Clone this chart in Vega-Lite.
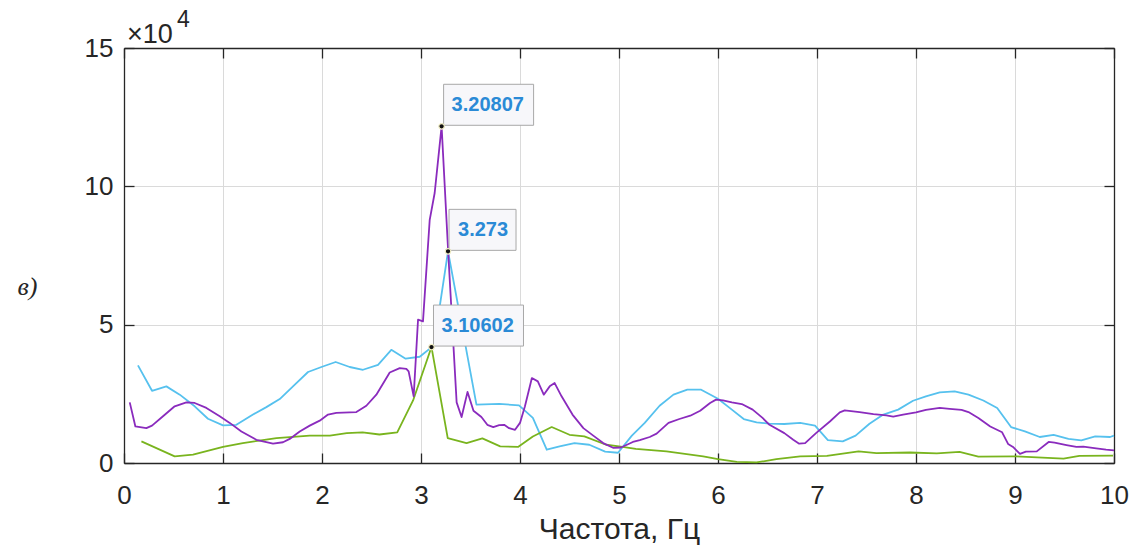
{
  "$schema": "https://vega.github.io/schema/vega-lite/v6.json",
  "width": 990,
  "height": 415,
  "autosize": {"type": "none"},
  "padding": {"left": 124, "top": 48, "right": 21, "bottom": 84},
  "background": "white",
  "config": {"view": {"stroke": null}, "font": "Liberation Sans"},
  "datasets": {
    "spectra": [
      {"series": "a", "f": 0.141, "a": 35300},
      {"series": "a", "f": 0.283, "a": 26100},
      {"series": "a", "f": 0.428, "a": 27700},
      {"series": "a", "f": 0.563, "a": 24700},
      {"series": "a", "f": 0.714, "a": 20500},
      {"series": "a", "f": 0.848, "a": 16000},
      {"series": "a", "f": 1.0, "a": 13600},
      {"series": "a", "f": 1.135, "a": 13800},
      {"series": "a", "f": 1.303, "a": 17500},
      {"series": "a", "f": 1.438, "a": 20200},
      {"series": "a", "f": 1.573, "a": 23100},
      {"series": "a", "f": 1.707, "a": 27700},
      {"series": "a", "f": 1.859, "a": 32900},
      {"series": "a", "f": 1.994, "a": 34700},
      {"series": "a", "f": 2.138, "a": 36500},
      {"series": "a", "f": 2.28, "a": 34700},
      {"series": "a", "f": 2.414, "a": 33700},
      {"series": "a", "f": 2.566, "a": 35500},
      {"series": "a", "f": 2.7, "a": 40900},
      {"series": "a", "f": 2.845, "a": 37700},
      {"series": "a", "f": 2.987, "a": 38400},
      {"series": "a", "f": 3.13, "a": 42500},
      {"series": "a", "f": 3.273, "a": 76500},
      {"series": "a", "f": 3.56, "a": 21100},
      {"series": "a", "f": 3.79, "a": 21400},
      {"series": "a", "f": 3.99, "a": 20800},
      {"series": "a", "f": 4.13, "a": 16300},
      {"series": "a", "f": 4.27, "a": 4800},
      {"series": "a", "f": 4.4, "a": 6000},
      {"series": "a", "f": 4.55, "a": 7200},
      {"series": "a", "f": 4.7, "a": 6600},
      {"series": "a", "f": 4.86, "a": 4100},
      {"series": "a", "f": 4.99, "a": 3700},
      {"series": "a", "f": 5.13, "a": 9900},
      {"series": "a", "f": 5.26, "a": 14500},
      {"series": "a", "f": 5.41, "a": 20700},
      {"series": "a", "f": 5.55, "a": 24700},
      {"series": "a", "f": 5.69, "a": 26500},
      {"series": "a", "f": 5.83, "a": 26500},
      {"series": "a", "f": 6.0, "a": 23200},
      {"series": "a", "f": 6.14, "a": 19300},
      {"series": "a", "f": 6.26, "a": 15900},
      {"series": "a", "f": 6.39, "a": 14700},
      {"series": "a", "f": 6.52, "a": 14200},
      {"series": "a", "f": 6.67, "a": 14100},
      {"series": "a", "f": 6.83, "a": 14500},
      {"series": "a", "f": 6.98, "a": 13500},
      {"series": "a", "f": 7.11, "a": 8300},
      {"series": "a", "f": 7.26, "a": 7800},
      {"series": "a", "f": 7.39, "a": 9900},
      {"series": "a", "f": 7.53, "a": 14200},
      {"series": "a", "f": 7.67, "a": 17500},
      {"series": "a", "f": 7.82, "a": 19300},
      {"series": "a", "f": 7.97, "a": 22500},
      {"series": "a", "f": 8.1, "a": 24100},
      {"series": "a", "f": 8.24, "a": 25500},
      {"series": "a", "f": 8.39, "a": 25900},
      {"series": "a", "f": 8.53, "a": 24700},
      {"series": "a", "f": 8.68, "a": 22600},
      {"series": "a", "f": 8.82, "a": 19900},
      {"series": "a", "f": 8.96, "a": 13000},
      {"series": "a", "f": 9.1, "a": 11400},
      {"series": "a", "f": 9.25, "a": 9400},
      {"series": "a", "f": 9.39, "a": 10200},
      {"series": "a", "f": 9.54, "a": 8700},
      {"series": "a", "f": 9.67, "a": 8200},
      {"series": "a", "f": 9.81, "a": 9600},
      {"series": "a", "f": 9.96, "a": 9400},
      {"series": "a", "f": 10.0, "a": 9900},

      {"series": "b", "f": 0.176, "a": 7800},
      {"series": "b", "f": 0.512, "a": 2400},
      {"series": "b", "f": 0.697, "a": 3000},
      {"series": "b", "f": 1.0, "a": 5800},
      {"series": "b", "f": 1.2, "a": 7200},
      {"series": "b", "f": 1.54, "a": 9000},
      {"series": "b", "f": 1.876, "a": 9900},
      {"series": "b", "f": 2.08, "a": 9900},
      {"series": "b", "f": 2.25, "a": 10800},
      {"series": "b", "f": 2.41, "a": 11100},
      {"series": "b", "f": 2.58, "a": 10300},
      {"series": "b", "f": 2.76, "a": 11100},
      {"series": "b", "f": 2.92, "a": 22600},
      {"series": "b", "f": 3.10602, "a": 41900},
      {"series": "b", "f": 3.27, "a": 9000},
      {"series": "b", "f": 3.46, "a": 7200},
      {"series": "b", "f": 3.62, "a": 8900},
      {"series": "b", "f": 3.8, "a": 6000},
      {"series": "b", "f": 3.98, "a": 5800},
      {"series": "b", "f": 4.13, "a": 9600},
      {"series": "b", "f": 4.32, "a": 13000},
      {"series": "b", "f": 4.5, "a": 10200},
      {"series": "b", "f": 4.65, "a": 9600},
      {"series": "b", "f": 4.87, "a": 6600},
      {"series": "b", "f": 5.0, "a": 6000},
      {"series": "b", "f": 5.17, "a": 5100},
      {"series": "b", "f": 5.48, "a": 4200},
      {"series": "b", "f": 5.85, "a": 2400},
      {"series": "b", "f": 6.0, "a": 1400},
      {"series": "b", "f": 6.19, "a": 400},
      {"series": "b", "f": 6.39, "a": 200},
      {"series": "b", "f": 6.59, "a": 1400},
      {"series": "b", "f": 6.83, "a": 2400},
      {"series": "b", "f": 7.1, "a": 2600},
      {"series": "b", "f": 7.42, "a": 4200},
      {"series": "b", "f": 7.6, "a": 3600},
      {"series": "b", "f": 7.94, "a": 3800},
      {"series": "b", "f": 8.21, "a": 3500},
      {"series": "b", "f": 8.44, "a": 4000},
      {"series": "b", "f": 8.63, "a": 2300},
      {"series": "b", "f": 9.01, "a": 2400},
      {"series": "b", "f": 9.49, "a": 1600},
      {"series": "b", "f": 9.65, "a": 2600},
      {"series": "b", "f": 9.99, "a": 2700},

      {"series": "c", "f": 0.058, "a": 21900},
      {"series": "c", "f": 0.115, "a": 13200},
      {"series": "c", "f": 0.226, "a": 12600},
      {"series": "c", "f": 0.283, "a": 13500},
      {"series": "c", "f": 0.394, "a": 16900},
      {"series": "c", "f": 0.512, "a": 20500},
      {"series": "c", "f": 0.63, "a": 21900},
      {"series": "c", "f": 0.714, "a": 21700},
      {"series": "c", "f": 0.832, "a": 19900},
      {"series": "c", "f": 0.967, "a": 16900},
      {"series": "c", "f": 1.068, "a": 14500},
      {"series": "c", "f": 1.186, "a": 11400},
      {"series": "c", "f": 1.337, "a": 8400},
      {"series": "c", "f": 1.404, "a": 7800},
      {"series": "c", "f": 1.505, "a": 7000},
      {"series": "c", "f": 1.606, "a": 7500},
      {"series": "c", "f": 1.674, "a": 8700},
      {"series": "c", "f": 1.775, "a": 11400},
      {"series": "c", "f": 1.876, "a": 13500},
      {"series": "c", "f": 1.977, "a": 15300},
      {"series": "c", "f": 2.061, "a": 17500},
      {"series": "c", "f": 2.145, "a": 18100},
      {"series": "c", "f": 2.347, "a": 18400},
      {"series": "c", "f": 2.448, "a": 20700},
      {"series": "c", "f": 2.549, "a": 24700},
      {"series": "c", "f": 2.684, "a": 32700},
      {"series": "c", "f": 2.785, "a": 34300},
      {"series": "c", "f": 2.852, "a": 34000},
      {"series": "c", "f": 2.875, "a": 33100},
      {"series": "c", "f": 2.926, "a": 24100},
      {"series": "c", "f": 2.97, "a": 51800},
      {"series": "c", "f": 3.02, "a": 51200},
      {"series": "c", "f": 3.088, "a": 87900},
      {"series": "c", "f": 3.138, "a": 97600},
      {"series": "c", "f": 3.20807, "a": 121700},
      {"series": "c", "f": 3.275, "a": 76000},
      {"series": "c", "f": 3.36, "a": 21900},
      {"series": "c", "f": 3.41, "a": 16600},
      {"series": "c", "f": 3.47, "a": 25700},
      {"series": "c", "f": 3.53, "a": 18900},
      {"series": "c", "f": 3.61, "a": 16600},
      {"series": "c", "f": 3.67, "a": 13800},
      {"series": "c", "f": 3.73, "a": 13000},
      {"series": "c", "f": 3.79, "a": 13700},
      {"series": "c", "f": 3.84, "a": 13800},
      {"series": "c", "f": 3.89, "a": 12600},
      {"series": "c", "f": 3.95, "a": 12000},
      {"series": "c", "f": 4.0, "a": 14500},
      {"series": "c", "f": 4.05, "a": 20500},
      {"series": "c", "f": 4.12, "a": 30700},
      {"series": "c", "f": 4.18, "a": 29500},
      {"series": "c", "f": 4.24, "a": 24700},
      {"series": "c", "f": 4.3, "a": 27700},
      {"series": "c", "f": 4.35, "a": 28900},
      {"series": "c", "f": 4.42, "a": 24100},
      {"series": "c", "f": 4.53, "a": 17500},
      {"series": "c", "f": 4.64, "a": 12600},
      {"series": "c", "f": 4.74, "a": 9900},
      {"series": "c", "f": 4.84, "a": 7200},
      {"series": "c", "f": 4.94, "a": 5500},
      {"series": "c", "f": 5.02, "a": 5600},
      {"series": "c", "f": 5.14, "a": 7600},
      {"series": "c", "f": 5.21, "a": 8300},
      {"series": "c", "f": 5.31, "a": 9400},
      {"series": "c", "f": 5.38, "a": 10600},
      {"series": "c", "f": 5.5, "a": 14500},
      {"series": "c", "f": 5.61, "a": 15900},
      {"series": "c", "f": 5.72, "a": 17100},
      {"series": "c", "f": 5.82, "a": 18900},
      {"series": "c", "f": 5.92, "a": 21700},
      {"series": "c", "f": 5.98, "a": 22900},
      {"series": "c", "f": 6.05, "a": 22600},
      {"series": "c", "f": 6.14, "a": 21900},
      {"series": "c", "f": 6.24, "a": 21300},
      {"series": "c", "f": 6.35, "a": 19300},
      {"series": "c", "f": 6.45, "a": 16300},
      {"series": "c", "f": 6.52, "a": 13800},
      {"series": "c", "f": 6.67, "a": 10800},
      {"series": "c", "f": 6.76, "a": 8400},
      {"series": "c", "f": 6.82, "a": 7000},
      {"series": "c", "f": 6.88, "a": 7200},
      {"series": "c", "f": 6.99, "a": 10800},
      {"series": "c", "f": 7.13, "a": 15000},
      {"series": "c", "f": 7.23, "a": 18300},
      {"series": "c", "f": 7.28, "a": 19000},
      {"series": "c", "f": 7.43, "a": 18400},
      {"series": "c", "f": 7.57, "a": 17700},
      {"series": "c", "f": 7.7, "a": 17200},
      {"series": "c", "f": 7.77, "a": 16800},
      {"series": "c", "f": 7.87, "a": 17500},
      {"series": "c", "f": 8.0, "a": 18300},
      {"series": "c", "f": 8.1, "a": 19200},
      {"series": "c", "f": 8.24, "a": 19900},
      {"series": "c", "f": 8.34, "a": 19600},
      {"series": "c", "f": 8.46, "a": 19200},
      {"series": "c", "f": 8.53, "a": 18400},
      {"series": "c", "f": 8.63, "a": 16300},
      {"series": "c", "f": 8.75, "a": 13200},
      {"series": "c", "f": 8.87, "a": 11100},
      {"series": "c", "f": 8.93, "a": 6900},
      {"series": "c", "f": 8.98, "a": 5800},
      {"series": "c", "f": 9.05, "a": 3300},
      {"series": "c", "f": 9.11, "a": 4100},
      {"series": "c", "f": 9.22, "a": 4200},
      {"series": "c", "f": 9.34, "a": 7600},
      {"series": "c", "f": 9.4, "a": 7400},
      {"series": "c", "f": 9.52, "a": 6500},
      {"series": "c", "f": 9.62, "a": 5800},
      {"series": "c", "f": 9.69, "a": 5900},
      {"series": "c", "f": 9.82, "a": 5300},
      {"series": "c", "f": 9.92, "a": 4800},
      {"series": "c", "f": 10.0, "a": 4600}
    ],
    "tips": [
      {"f": 3.20807, "a": 121700, "label": "3.20807"},
      {"f": 3.273, "a": 76500, "label": "3.273"},
      {"f": 3.10602, "a": 41900, "label": "3.10602"}
    ],
    "exponent": [
      {"base": "×10", "power": "4"}
    ]
  },
  "layer": [
    {
      "data": {"name": "spectra"},
      "mark": {"type": "line", "strokeWidth": 1.8, "strokeJoin": "round"},
      "encoding": {
        "x": {
          "field": "f", "type": "quantitative",
          "scale": {"domain": [0, 10], "nice": false, "zero": false},
          "axis": {
            "orient": "bottom",
            "values": [0, 1, 2, 3, 4, 5, 6, 7, 8, 9, 10],
            "format": "d",
            "grid": true, "gridColor": "#DADADA", "gridWidth": 1,
            "domainColor": "#262626", "domainWidth": 1.3,
            "ticks": true, "tickColor": "#262626", "tickWidth": 1.3, "tickSize": -10,
            "labelFont": "Liberation Sans", "labelFontSize": 26, "labelColor": "#262626",
            "labelPadding": 29, "labelFlush": false, "labelOverlap": false,
            "title": "Частота, Гц",
            "titleFont": "Liberation Sans", "titleFontSize": 30, "titleFontWeight": "normal",
            "titleColor": "#262626", "titleAlign": "center", "titleBaseline": "alphabetic",
            "titleX": 495, "titleY": 75
          }
        },
        "y": {
          "field": "a", "type": "quantitative",
          "scale": {"domain": [0, 150000], "nice": false},
          "axis": {
            "orient": "left",
            "values": [0, 50000, 100000, 150000],
            "labelExpr": "format(datum.value / 10000, 'd')",
            "grid": true, "gridColor": "#DADADA", "gridWidth": 1,
            "domainColor": "#262626", "domainWidth": 1.3,
            "ticks": true, "tickColor": "#262626", "tickWidth": 1.3, "tickSize": -10,
            "labelFont": "Liberation Sans", "labelFontSize": 26, "labelColor": "#262626",
            "labelPadding": 21, "labelFlush": false, "labelOverlap": false,
            "title": "в)",
            "titleFont": "Liberation Serif", "titleFontStyle": "italic", "titleFontWeight": "normal",
            "titleFontSize": 26, "titleColor": "#262626", "titleAngle": 0,
            "titleAlign": "left", "titleBaseline": "middle",
            "titleX": -107, "titleY": 238
          }
        },
        "color": {
          "field": "series", "type": "nominal",
          "scale": {"domain": ["a", "b", "c"], "range": ["#56C1EE", "#79B41E", "#8A2BBD"]},
          "legend": null
        }
      }
    },
    {
      "data": {"name": "tips"},
      "mark": {"type": "point", "filled": true, "size": 4, "fill": "#F7F7FA", "fillOpacity": 1, "stroke": "#A8A8A8", "strokeWidth": 1, "opacity": 1},
      "encoding": {
        "x": {
          "field": "f", "type": "quantitative",
          "scale": {"domain": [0, 10], "nice": false, "zero": false},
          "axis": {
            "orient": "top", "values": [0, 1, 2, 3, 4, 5, 6, 7, 8, 9, 10],
            "labels": false, "grid": false, "title": null,
            "domainColor": "#262626", "domainWidth": 1.3,
            "ticks": true, "tickColor": "#262626", "tickWidth": 1.3, "tickSize": -10
          }
        },
        "y": {
          "field": "a", "type": "quantitative",
          "scale": {"domain": [0, 150000], "nice": false},
          "axis": {
            "orient": "right", "values": [0, 50000, 100000, 150000],
            "labels": false, "grid": false, "title": null,
            "domainColor": "#262626", "domainWidth": 1.3,
            "ticks": true, "tickColor": "#262626", "tickWidth": 1.3, "tickSize": -10
          }
        },
        "shape": {
          "field": "label", "type": "nominal",
          "scale": {
            "domain": ["3.20807", "3.273", "3.10602"],
            "range": ["M2,-1L92,-1L92,-42L2,-42Z", "M1,-1L68,-1L68,-42L1,-42Z", "M2,-1L92,-1L92,-42L2,-42Z"]
          },
          "legend": null
        }
      }
    },
    {
      "data": {"name": "tips"},
      "mark": {"type": "text", "align": "left", "baseline": "middle", "dx": 10, "dy": -21, "font": "Liberation Sans", "fontWeight": "bold", "fontSize": 20, "color": "#2A8AD6"},
      "encoding": {
        "x": {"field": "f", "type": "quantitative", "scale": {"domain": [0, 10], "nice": false, "zero": false}, "axis": null},
        "y": {"field": "a", "type": "quantitative", "scale": {"domain": [0, 150000], "nice": false}, "axis": null},
        "text": {"field": "label"}
      }
    },
    {
      "data": {"name": "tips"},
      "mark": {"type": "point", "filled": true, "size": 30, "fill": "#111111", "stroke": "#F4F0C8", "strokeWidth": 1.2, "opacity": 1},
      "encoding": {
        "x": {"field": "f", "type": "quantitative", "scale": {"domain": [0, 10], "nice": false, "zero": false}, "axis": null},
        "y": {"field": "a", "type": "quantitative", "scale": {"domain": [0, 150000], "nice": false}, "axis": null}
      }
    },
    {
      "data": {"name": "exponent"},
      "mark": {"type": "text", "align": "left", "baseline": "alphabetic", "dx": 3, "dy": -5, "font": "Liberation Sans", "fontSize": 27, "color": "#262626"},
      "encoding": {
        "x": {"datum": 0, "type": "quantitative", "scale": {"domain": [0, 10], "nice": false, "zero": false}, "axis": null},
        "y": {"datum": 150000, "type": "quantitative", "scale": {"domain": [0, 150000], "nice": false}, "axis": null},
        "text": {"field": "base"}
      }
    },
    {
      "data": {"name": "exponent"},
      "mark": {"type": "text", "align": "left", "baseline": "alphabetic", "dx": 53, "dy": -21, "font": "Liberation Sans", "fontSize": 23, "color": "#262626"},
      "encoding": {
        "x": {"datum": 0, "type": "quantitative", "scale": {"domain": [0, 10], "nice": false, "zero": false}, "axis": null},
        "y": {"datum": 150000, "type": "quantitative", "scale": {"domain": [0, 150000], "nice": false}, "axis": null},
        "text": {"field": "power"}
      }
    }
  ],
  "resolve": {"axis": {"x": "independent", "y": "independent"}}
}
